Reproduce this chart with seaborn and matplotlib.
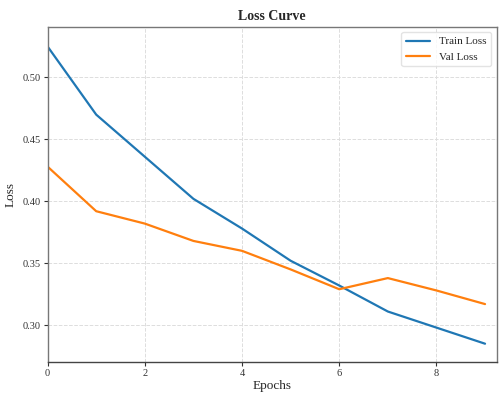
import numpy as np
import pandas as pd
import matplotlib
matplotlib.use("Agg")
import matplotlib.pyplot as plt
import seaborn as sns

epochs = [0, 1, 2, 3, 4, 5, 6, 7, 8, 9]
train_loss = [0.525, 0.470, 0.436, 0.402, 0.378, 0.352, 0.332, 0.311, 0.298, 0.285]
val_loss = [0.428, 0.392, 0.382, 0.368, 0.360, 0.345, 0.329, 0.338, 0.328, 0.317]
series_names = ["Train Loss", "Val Loss"]
x_ticks = [0, 2, 4, 6, 8]
y_ticks = [0.30, 0.35, 0.40, 0.45, 0.50]

df = pd.DataFrame({
    "Epochs": epochs * 2,
    "Loss": train_loss + val_loss,
    "Series": [series_names[0]] * len(epochs) + [series_names[1]] * len(epochs),
})

sns.set_theme(style="ticks")
plt.rcParams["font.family"] = ["Liberation Serif", "DejaVu Serif"]

fig = plt.figure(figsize=(4.99, 3.94), dpi=100)
ax = fig.add_axes([0.0954, 0.0805, 0.9000, 0.8517])

sns.lineplot(data=df, x="Epochs", y="Loss", hue="Series",
             palette=["#1f77b4", "#ff7f0e"], linewidth=1.6, ax=ax)

ax.set_xlim(0, 9.24)
ax.set_ylim(0.270, 0.541)
ax.set_xticks(x_ticks)
ax.set_yticks(y_ticks)
ax.set_yticklabels([f"{v:.2f}" for v in y_ticks])
ax.tick_params(axis="both", labelsize=7.5, length=3, width=0.8, colors="#333333", pad=2)
ax.grid(True, linestyle="--", color="#dddddd", linewidth=0.7)
for s in ax.spines.values():
    s.set_color("#777777")
    s.set_linewidth(1.0)
ax.spines["bottom"].set_color("#444444")

ax.set_xlabel("Epochs", fontsize=9.5, labelpad=1)
ax.set_ylabel("Loss", fontsize=9.5, labelpad=4)
ax.set_title("Loss Curve", fontsize=10, fontweight="bold", pad=5)

leg = ax.legend(loc="upper right", fontsize=8, frameon=True, title=None,
                handlelength=2.2)
leg.get_frame().set_edgecolor("#dddddd")

fig.savefig("out.png", dpi=100)
